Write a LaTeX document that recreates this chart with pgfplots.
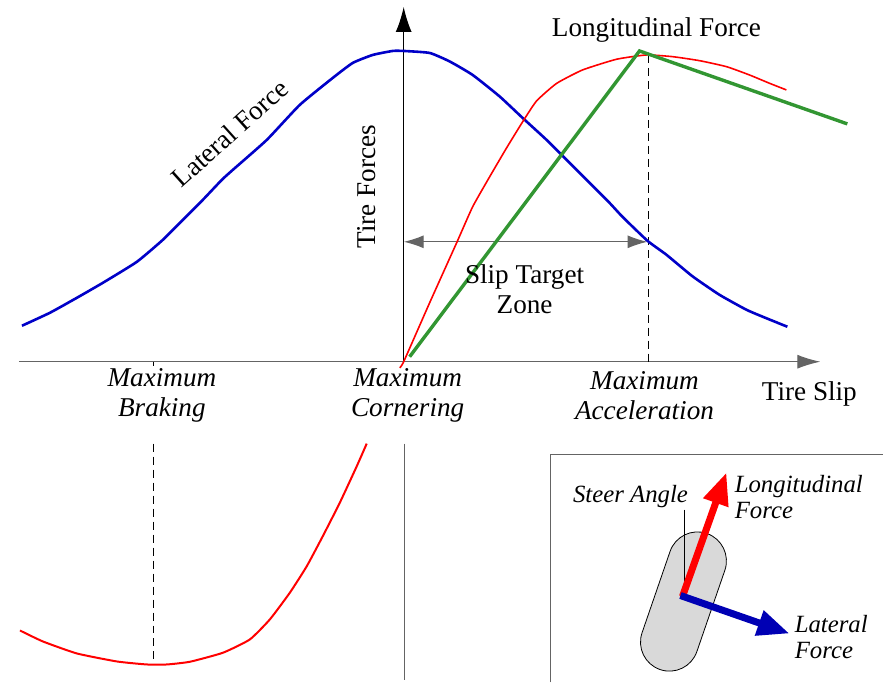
\documentclass[border=0pt]{standalone}
\usepackage{pgfplots}
\pgfplotsset{compat=1.18}
\usepackage{fontspec}
\setmainfont{Liberation Serif}
\usetikzlibrary{arrows.meta}
\definecolor{cblue}{RGB}{0,0,200}
\definecolor{cred}{RGB}{255,0,0}
\definecolor{cgreen}{RGB}{50,150,50}
\definecolor{caxis}{RGB}{100,100,100}
\newcommand{\bigfnt}{\fontsize{13.6}{16}\selectfont}
\newcommand{\smfnt}{\fontsize{12.4}{14}\selectfont\itshape}
\begin{document}
\begin{tikzpicture}
\begin{axis}[width=442pt,height=341.5pt,scale only axis,
  xmin=0,xmax=884,ymin=0,ymax=683,y dir=reverse,hide axis,clip=false]
\path (axis cs:0,0) rectangle (axis cs:884,683);
% main axes
\addplot[caxis,line width=0.6pt,-{Latex[length=11.5pt,width=7pt]}] coordinates {(19,362)(821,362)};
\addplot[black,line width=0.6pt,-{Latex[length=12.5pt,width=8pt]}] coordinates {(404,362)(404,7)};
\addplot[caxis,line width=0.6pt] coordinates {(405,444)(405,681)};
% dashed lines
\addplot[black,line width=0.5pt,dash pattern=on 4pt off 2.5pt] coordinates {(154,444)(154,665)};
\addplot[black,line width=0.5pt] coordinates {(154,362)(154,366)};
\addplot[black,line width=0.5pt,dash pattern=on 4pt off 2.5pt] coordinates {(649,55)(649,362)};
% slip target arrow
\addplot[caxis,line width=0.6pt,{Latex[length=10pt,width=6.5pt]}-{Latex[length=10pt,width=6.5pt]}] coordinates {(404,242)(648,242)};
% lateral force
\addplot[cblue,line width=1.3pt,smooth,tension=0.3] coordinates {(22,326)(50,313)(77,298)(103,283)(137,262)(163,240)(183,220)(203,200)(222,180)(233,170)(267,140)(300,105)(333,78)(353,63)(373,55)(393,51)(404,51)(430,53)(450,61.5)(473,75)(500,96.5)(523,118)(547,140)(570,163)(590,183)(610,203)(623,217)(648,241)(667,255)(693,276.5)(720,295)(747,310)(767,318.5)(788,327)};
% longitudinal force
\addplot[cred,line width=0.8pt,smooth,tension=0.3] coordinates {(400,368)(404,362)(430,303)(457,243)(473,207)(490,177)(507,148)(523,122)(537,101)(557,83.5)(583,70)(617,59.3)(647,55)(673,56.7)(700,60.7)(727,66.7)(750,75)(770,83.3)(787,90)};
\addplot[cred,line width=1pt,smooth,tension=0.3] coordinates {(20,631)(43,642)(77,654)(117,662)(147,665)(167,665)(190,662.3)(223,653.3)(250,640)(270,620)(290,593.3)(307,566.7)(323,536.7)(340,503.3)(357,466.7)(367,444)};
% green
\addplot[cgreen,line width=1.7pt] coordinates {(410,357)(640,51)(848,124)};
% texts
\node[font=\bigfnt,rotate=42] at (axis cs:230,133) {Lateral Force};
\node[font=\bigfnt,rotate=90] at (axis cs:367,187) {Tire Forces};
\node[font=\bigfnt] at (axis cs:657,30) {Longitudinal Force};
\node[font=\bigfnt,align=center,inner sep=0pt] at (axis cs:525,289) {Slip Target\\[-1pt]Zone};
\node[font=\bigfnt\itshape,align=center,inner sep=0pt] at (axis cs:162,396) {Maximum\\[-1pt]Braking};
\node[font=\bigfnt\itshape,align=center,inner sep=0pt] at (axis cs:408,396) {Maximum\\[-1pt]Cornering};
\node[font=\bigfnt\itshape,align=center,inner sep=0pt] at (axis cs:645,396) {Maximum\\[-1pt]Acceleration};
\node[font=\bigfnt] at (axis cs:810,394) {Tire Slip};
% inset box
\addplot[caxis,line width=0.7pt] coordinates {(551,683)(551,455)(884,455)};
\node[draw=black,line width=0.4pt,fill=gray!30,rounded corners=14.5pt,minimum width=29pt,minimum height=72pt,rotate=-19,inner sep=0pt] at (axis cs:684,602) {};
\addplot[black,line width=0.4pt] coordinates {(685,510)(685,597)};
\addplot[cred,line width=3.5pt,-{Triangle[length=16pt,width=12.5pt]}] coordinates {(683,597)(727,473)};
\addplot[cblue!90!black,line width=3.5pt,-{Triangle[length=16pt,width=12.5pt]}] coordinates {(681,596)(790,634)};
\node[font=\smfnt] at (axis cs:631,497) {Steer Angle};
\node[font=\smfnt,anchor=west,align=left,inner sep=0pt] at (axis cs:735,497) {Longitudinal\\[-1pt]Force};
\node[font=\smfnt,anchor=west,align=left,inner sep=0pt] at (axis cs:795,638) {Lateral\\[-1pt]Force};
\end{axis}
\end{tikzpicture}
\end{document}
